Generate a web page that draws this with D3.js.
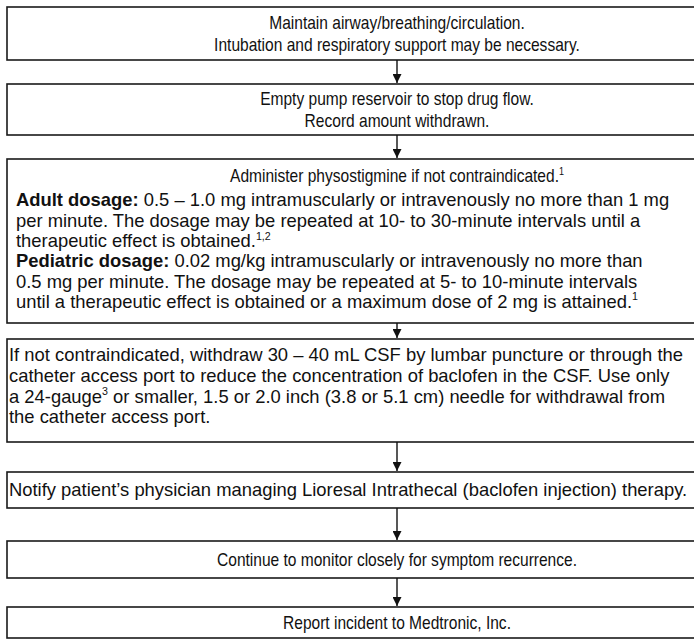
<!DOCTYPE html>
<html>
<head>
<meta charset="utf-8">
<script src="https://cdn.jsdelivr.net/npm/d3@7"></script>
<style>
  html, body { margin: 0; padding: 0; background: #fff; overflow: hidden; }
  svg { display: block; }
  .box { fill: #fff; stroke: #1a1a1a; stroke-width: 1.6; }
  .step-text { font-family: "Liberation Sans", Arial, Helvetica, sans-serif; fill: #111; }
  .arrow { stroke: #111; stroke-width: 1.4; }
</style>
</head>
<body>
<div class="chart"></div>
<script>
// step texts, one array per box ( **bold**, ^sup )
var step1 = ["Maintain airway/breathing/circulation.",
             "Intubation and respiratory support may be necessary."];
var step2 = ["Empty pump reservoir to stop drug flow.",
             "Record amount withdrawn."];
var step3 = ["Administer physostigmine if not contraindicated.^1",
             "**Adult dosage:** 0.5 \u2013 1.0 mg intramuscularly or intravenously no more than 1 mg",
             "per minute. The dosage may be repeated at 10- to 30-minute intervals until a",
             "therapeutic effect is obtained.^1,2",
             "**Pediatric dosage:** 0.02 mg/kg intramuscularly or intravenously no more than",
             "0.5 mg per minute. The dosage may be repeated at 5- to 10-minute intervals",
             "until a therapeutic effect is obtained or a maximum dose of 2 mg is attained.^1"];
var step4 = ["If not contraindicated, withdraw 30 \u2013 40 mL CSF by lumbar puncture or through the",
             "catheter access port to reduce the concentration of baclofen in the CSF. Use only",
             "a 24-gauge^3 or smaller, 1.5 or 2.0 inch (3.8 or 5.1 cm) needle for withdrawal from",
             "the catheter access port."];
var step5 = ["Notify patient\u2019s physician managing Lioresal Intrathecal (baclofen injection) therapy."];
var step6 = ["Continue to monitor closely for symptom recurrence."];
var step7 = ["Report incident to Medtronic, Inc."];

var steps = [step1, step2, step3, step4, step5, step6, step7];

// layout (top, height, first baseline, line step, alignment)
var layout = [
  {top: 7,   h: 53,  base: 22, step: 21.5, align: "center"},
  {top: 84,  h: 51,  base: 21, step: 22,   align: "center"},
  {top: 159, h: 164, base: 23, step: 20.3, align: "mixed"},
  {top: 339, h: 103, base: 22, step: 20.8, align: "left"},
  {top: 472, h: 36,  base: 24, step: 20,   align: "left"},
  {top: 541, h: 37,  base: 25, step: 20,   align: "center"},
  {top: 607, h: 31,  base: 22, step: 20,   align: "center"}
];

var width = 694, height = 640,
    boxLeft = 7, boxWidth = 780,
    cx = boxLeft + boxWidth / 2,
    fontSize = 18.4,
    narrow = 0.845;   // centred lines are set in a condensed face

var svg = d3.select(".chart").append("svg")
    .attr("width", width)
    .attr("height", height);

svg.append("defs").append("marker")
    .attr("id", "head")
    .attr("viewBox", "0 -4 8 8")
    .attr("refX", 8)
    .attr("refY", 0)
    .attr("markerUnits", "userSpaceOnUse")
    .attr("markerWidth", 9)
    .attr("markerHeight", 9)
    .attr("orient", "auto")
    .append("path")
    .attr("d", "M0,-4L8,0L0,4Z")
    .attr("fill", "#111");

var g = svg.selectAll(".step")
    .data(steps)
    .enter()
    .append("g")
    .attr("class", "step")
    .attr("transform", function(d, i) { return "translate(0," + layout[i].top + ")"; });

g.append("rect")
    .attr("class", "box")
    .attr("x", boxLeft)
    .attr("y", 0)
    .attr("width", boxWidth)
    .attr("height", function(d, i) { return layout[i].h; });

function addLine(text, str, x, y, anchor, sx) {
  var size = fontSize;
  var t = text.append("text")
      .attr("transform", "translate(" + x + "," + y + ") scale(" + sx + ",1)")
      .attr("font-size", size + "px")
      .attr("text-anchor", anchor);
  var raised = false;
  // split into bold / superscript pieces
  str.split(/(\*\*[^*]+\*\*|\^[0-9,]+)/).forEach(function(part) {
    if (!part) return;
    var sp;
    if (part[0] == "^") {
      t.append("tspan").attr("font-size", (size * 0.58) + "px").attr("dy", -size * 0.4).text(part.slice(1));
      raised = true;
      return;
    }
    if (part.slice(0, 2) == "**") {
      sp = t.append("tspan").attr("font-weight", "bold").text(part.slice(2, -2));
    } else {
      sp = t.append("tspan").text(part);
    }
    if (raised) { sp.attr("dy", size * 0.4); raised = false; }
  });
}

g.each(function(d, i) {
  var L = layout[i];
  var sel = d3.select(this).append("g").attr("class", "step-text");
  d.forEach(function(line, j) {
    var y = L.base + j * L.step + (L.align == "mixed" && j > 0 ? 4 : 0);
    if (L.align == "center" || (L.align == "mixed" && j == 0)) {
      addLine(sel, line, cx, y, "middle", narrow);
    } else {
      var x = L.align == "mixed" ? 16 : 9;
      addLine(sel, line, x, y, "start", 1);
    }
  });
});

// arrows between boxes
var links = d3.pairs(layout);
svg.selectAll(".arrow")
    .data(links)
    .enter()
    .append("line")
    .attr("class", "arrow")
    .attr("x1", 397).attr("x2", 397)
    .attr("y1", function(d) { return d[0].top + d[0].h; })
    .attr("y2", function(d) { return d[1].top - 1; })
    .attr("marker-end", "url(#head)");
</script>
</body>
</html>
